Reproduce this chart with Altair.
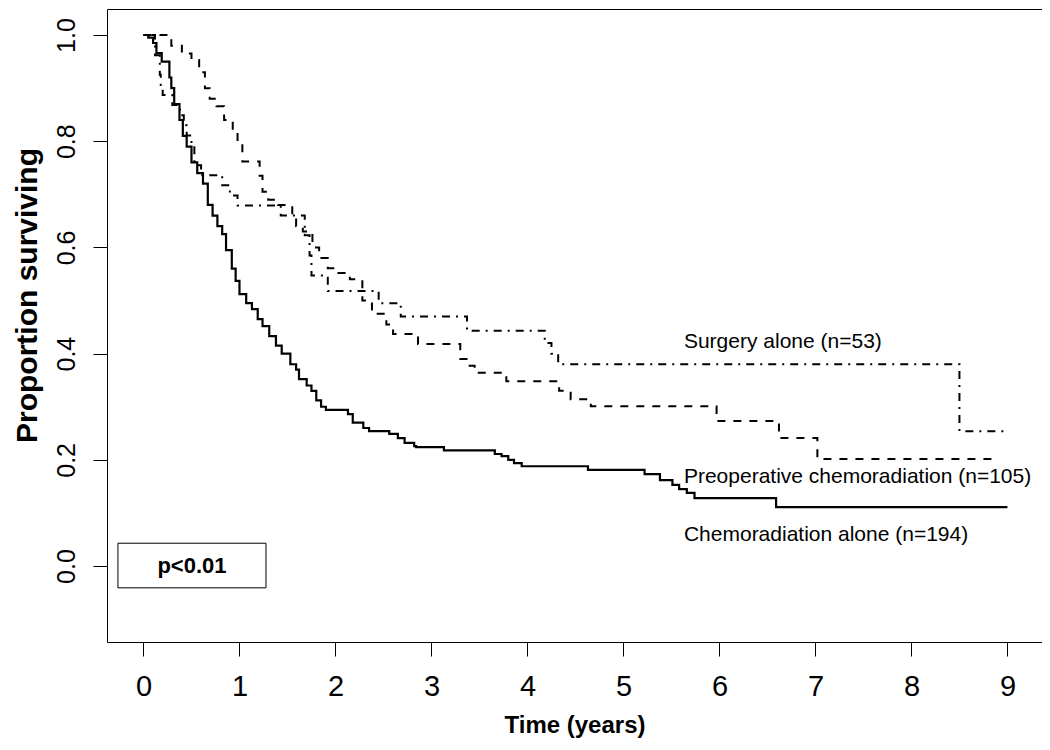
import altair as alt
import pandas as pd

# ---- data (time in years, proportion surviving) ----
chemo_t = [0, 0.05, 0.1, 0.135, 0.19, 0.27, 0.29, 0.32, 0.375, 0.41, 0.45, 0.5, 0.56, 0.62,
           0.67, 0.72, 0.77, 0.82, 0.86, 0.92, 0.96, 1.0, 1.07, 1.13, 1.19, 1.24, 1.31, 1.38,
           1.44, 1.53, 1.59, 1.62, 1.7, 1.75, 1.8, 1.85, 1.9, 2.13, 2.18, 2.29, 2.35, 2.56,
           2.65, 2.72, 2.82, 2.84, 3.13, 3.66, 3.73, 3.8, 3.86, 3.94, 4.63, 5.22, 5.38, 5.51,
           5.58, 5.66, 5.74, 6.59]
chemo_s = [1.0, 0.995, 0.985, 0.966, 0.95, 0.92, 0.90, 0.87, 0.84, 0.81, 0.79, 0.76, 0.74, 0.72,
           0.68, 0.66, 0.64, 0.625, 0.595, 0.56, 0.537, 0.512, 0.495, 0.484, 0.465, 0.452, 0.433, 0.415,
           0.40, 0.38, 0.37, 0.352, 0.34, 0.33, 0.312, 0.30, 0.294, 0.286, 0.27, 0.26, 0.254, 0.249,
           0.241, 0.232, 0.226, 0.224, 0.218, 0.211, 0.207, 0.20, 0.194, 0.188, 0.181, 0.173, 0.162, 0.153,
           0.145, 0.138, 0.128, 0.111]
chemo_end = 9.0

preop_t = [0, 0.29, 0.4, 0.5, 0.58, 0.64, 0.69, 0.76, 0.84, 0.93, 0.98, 1.03, 1.21, 1.24, 1.3,
           1.4, 1.55, 1.59, 1.66, 1.76, 1.83, 1.92, 2.03, 2.15, 2.28, 2.38, 2.53, 2.6, 2.86, 3.3,
           3.38, 3.45, 3.78, 4.33, 4.45, 4.66, 5.97, 6.62, 7.02]
preop_s = [1.0, 0.98, 0.965, 0.953, 0.93, 0.90, 0.88, 0.866, 0.84, 0.82, 0.80, 0.762, 0.735, 0.705, 0.69,
           0.68, 0.66, 0.64, 0.63, 0.60, 0.58, 0.561, 0.552, 0.54, 0.50, 0.475, 0.455, 0.437, 0.418, 0.39,
           0.377, 0.364, 0.348, 0.33, 0.314, 0.301, 0.273, 0.241, 0.2015]
preop_end = 8.9

surg_t = [0, 0.12, 0.17, 0.18, 0.2, 0.3, 0.38, 0.42, 0.45, 0.5, 0.53, 0.6, 0.82, 0.9, 0.98,
          1.43, 1.68, 1.73, 1.75, 1.92, 2.45, 2.68, 3.37, 4.18, 4.25, 4.32, 8.5]
surg_s = [1.0, 0.962, 0.925, 0.906, 0.887, 0.868, 0.849, 0.83, 0.811, 0.792, 0.755, 0.736, 0.717, 0.698, 0.679,
          0.66, 0.623, 0.585, 0.547, 0.518, 0.495, 0.47, 0.443, 0.42, 0.40, 0.38, 0.254]
surg_end = 9.0

labels = ["Surgery alone (n=53)", "Preoperative chemoradiation (n=105)", "Chemoradiation alone (n=194)"]
label_x = [5.63, 5.63, 5.63]
label_y = [0.422, 0.168, 0.058]

pval_text = ["p<0.01"]
pbox_x = [-0.266]
pbox_x2 = [1.276]
pbox_y = [0.043]
pbox_y2 = [-0.041]

x_ticks = list(range(0, 10))
y_ticks = [0.0, 0.2, 0.4, 0.6, 0.8, 1.0]

FONT = "Liberation Sans"


def curve(ts, ss, end):
    return pd.DataFrame({"t": ts + [end], "s": ss + [ss[-1]]})


xscale = alt.Scale(domain=[-0.38, 9.36], nice=False, zero=False)
yscale = alt.Scale(domain=[-0.143, 1.049], nice=False, zero=False)

xaxis = alt.Axis(values=x_ticks, format="d", title="Time (years)", grid=False, domain=False,
                 tickSize=14, tickColor="black", tickWidth=1,
                 labelFont=FONT, labelFontSize=29, labelColor="black",
                 labelPadding=16, titleFont=FONT, titleFontSize=24,
                 titleFontWeight="bold", titleColor="black", titlePadding=12)
yaxis = alt.Axis(values=y_ticks, format=".1f", title="Proportion surviving", grid=False,
                 domain=False, tickSize=14, tickColor="black", tickWidth=1,
                 labelFont=FONT, labelFontSize=25, labelColor="black",
                 labelAngle=270, labelPadding=14, titleFont=FONT,
                 titleFontSize=30, titleFontWeight="bold", titleColor="black",
                 titlePadding=12, titleY=286)


def line_layer(df, dash, width=2):
    return alt.Chart(df).mark_line(interpolate="step-after", color="black",
                                   strokeWidth=width, strokeDash=dash).encode(
        x=alt.X("t:Q", scale=xscale, axis=xaxis),
        y=alt.Y("s:Q", scale=yscale, axis=yaxis),
    )


chemo = line_layer(curve(chemo_t, chemo_s, chemo_end), [1, 0], 2.2)
preop = line_layer(curve(preop_t, preop_s, preop_end), [8, 8], 2)
surg = line_layer(curve(surg_t, surg_s, surg_end), [2, 6, 8, 6], 2)

lab_df = pd.DataFrame({"x": label_x, "y": label_y, "text": labels})
lab = alt.Chart(lab_df).mark_text(align="left", baseline="middle", font=FONT,
                                  fontSize=21, color="black").encode(
    x=alt.X("x:Q", scale=xscale, axis=xaxis), y=alt.Y("y:Q", scale=yscale, axis=yaxis),
    text="text:N")

box_df = pd.DataFrame({"x": pbox_x, "x2": pbox_x2, "y": pbox_y, "y2": pbox_y2, "text": pval_text})
box_df["cx"] = (box_df["x"] + box_df["x2"]) / 2
box_df["cy"] = (box_df["y"] + box_df["y2"]) / 2
box = alt.Chart(box_df).mark_rect(fill="white", stroke="black", strokeWidth=1).encode(
    x=alt.X("x:Q", scale=xscale, axis=xaxis), x2="x2:Q",
    y=alt.Y("y:Q", scale=yscale, axis=yaxis), y2="y2:Q")
ptxt = alt.Chart(box_df).mark_text(align="center", baseline="middle",
                                   font=FONT, fontSize=22,
                                   fontWeight="bold", color="black").encode(
    x=alt.X("cx:Q", scale=xscale, axis=xaxis), y=alt.Y("cy:Q", scale=yscale, axis=yaxis),
    text="text:N")

chart = alt.layer(chemo, preop, surg, lab, box, ptxt).properties(
    width=935, height=633,
    autosize=alt.AutoSizeParams(type="none"),
    padding={"left": 99, "top": 1, "right": 0, "bottom": 100},
    background="white",
).configure_view(stroke="black", strokeWidth=1)

chart.save("out.html", embed_options={"renderer": "svg", "actions": False})
